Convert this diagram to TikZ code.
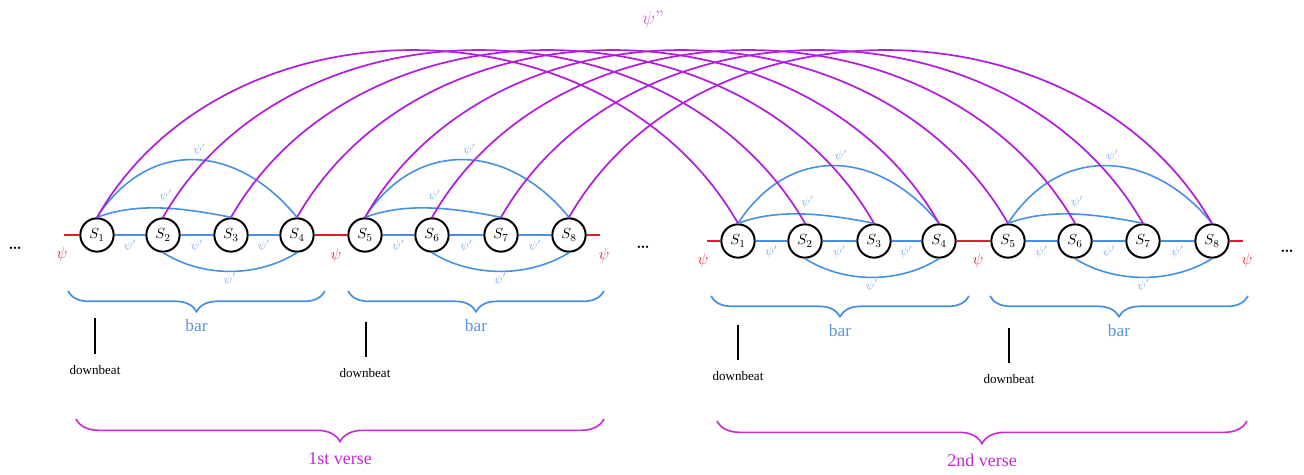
\documentclass[tikz,border=0pt]{standalone}
\usepackage{fontspec}
\newfontfamily\tnr{Liberation Serif}
\usetikzlibrary{decorations.pathreplacing}
\definecolor{eblue}{RGB}{74,144,226}
\definecolor{lblue}{RGB}{120,170,235}
\definecolor{barblue}{RGB}{90,150,225}
\definecolor{arcpurple}{RGB}{178,30,220}
\definecolor{vmag}{RGB}{200,40,215}
\definecolor{psimag}{RGB}{210,80,230}
\definecolor{myred}{RGB}{220,30,45}
\tikzset{
  snode/.style={circle, draw=black, line width=1.5pt, minimum size=25pt, inner sep=0pt, fill=white, font=\fontsize{11}{13}\selectfont},
  bedge/.style={draw=eblue, line width=1.2pt},
  plbl/.style={text=lblue, font=\small, inner sep=1pt},
  parc/.style={draw=arcpurple, line width=1.3pt},
  redl/.style={draw=myred, line width=1.3pt},
  redpsi/.style={text=myred, font=\fontsize{13}{15}\selectfont},
  bbrace/.style={draw=eblue, line width=1.3pt, decorate, decoration={brace, mirror, amplitude=15.5pt}},
  vbrace/.style={draw=vmag, line width=1.2pt, decorate, decoration={brace, mirror, amplitude=17pt}},
  bartext/.style={text=barblue, font=\tnr\fontsize{13}{15}\selectfont},
  dbtext/.style={font=\tnr\fontsize{9.8}{12}\selectfont},
  vtext/.style={text=vmag, font=\tnr\fontsize{13.5}{16}\selectfont},
  dbline/.style={draw=black, line width=1.1pt},
  dotsnode/.style={font=\bfseries\fontsize{12.5}{14}\selectfont, inner sep=0pt}
}
\begin{document}
\begin{tikzpicture}[x=0.75pt, y=-0.75pt]
\useasboundingbox (0,0) rectangle (1304,475);

% nodes
\foreach \n/\x in {1/97,2/163,3/231,4/297,5/365,6/432,7/501,8/569}{
  \node[snode] (L\n) at (\x,235) {$S_{\n}$};
}
\foreach \n/\x in {1/738,2/805,3/874,4/939,5/1008,6/1075,7/1143,8/1212}{
  \node[snode] (R\n) at (\x,241) {$S_{\n}$};
}

% red connectors
\coordinate (la) at (64,235);
\coordinate (lb) at (600,235);
\coordinate (ra) at (707,241);
\coordinate (rb) at (1243,241);
\draw[redl] (la) -- (L1);
\draw[redl] (L4) -- (L5);
\draw[redl] (L8) -- (lb);
\draw[redl] (ra) -- (R1);
\draw[redl] (R4) -- (R5);
\draw[redl] (R8) -- (rb);
\node[redpsi] (p1) at (62,254) {$\psi$};
\node[redpsi] (p2) at (336,255) {$\psi$};
\node[redpsi] (p3) at (604,255) {$\psi$};
\node[redpsi] (p4) at (703,260) {$\psi$};
\node[redpsi] (p5) at (978,260) {$\psi$};
\node[redpsi] (p6) at (1247,260) {$\psi$};

% dots
\node[dotsnode, anchor=base] (d1) at (15,249) {\ldots};
\node[dotsnode, anchor=base] (d2) at (643,248) {\ldots};
\node[dotsnode, anchor=base] (d3) at (1287,252) {\ldots};

% blue connectors
\foreach \P in {L,R}{
  \foreach \a/\b/\c/\d in {1/2/3/4,5/6/7/8}{
    \draw[bedge] (\P\a) -- node[plbl, below=2pt]{$\psi'$} (\P\b);
    \draw[bedge] (\P\b) -- node[plbl, below=2pt]{$\psi'$} (\P\c);
    \draw[bedge] (\P\c) -- node[plbl, below=2pt]{$\psi'$} (\P\d);
    \draw[bedge] (\P\a.north) .. controls +(40,-15) and +(-50,-10) .. node[plbl, pos=0.5, xshift=4pt, yshift=9pt]{$\psi'$} (\P\c.north);
    \draw[bedge] (\P\a.north) .. controls +(52,-80) and +(-60,-74) .. node[plbl, pos=0.5, xshift=4pt, yshift=7pt]{$\psi'$} (\P\d.north);
    \draw[bedge] (\P\b.south) .. controls +(40,25) and +(-40,25) .. node[plbl, pos=0.5, below]{$\psi'$} (\P\d.south);
  }
}

% purple long-range connectors
\foreach \n in {1,...,8}{
  \draw[parc] (L\n.north) .. controls +(130,-227) and +(-130,-227) .. (R\n.north);
}
\node[text=psimag, font=\Large] (pp) at (653,20) {$\psi$''};

% bar braces
\draw[bbrace] (68,291) -- (325,291) node[midway, below=17pt, bartext] (b1) {bar};
\draw[bbrace] (348,291) -- (604,291) node[midway, below=17pt, bartext] (b2) {bar};
\draw[bbrace] (711,296) -- (969,296) node[midway, below=17pt, bartext] (b3) {bar};
\draw[bbrace] (990,296) -- (1248,296) node[midway, below=17pt, bartext] (b4) {bar};

% downbeats
\coordinate (db1a) at (95,318); \coordinate (db1b) at (95,354);
\coordinate (db2a) at (366,322); \coordinate (db2b) at (366,357);
\coordinate (db3a) at (738,325); \coordinate (db3b) at (738,360);
\coordinate (db4a) at (1009,328); \coordinate (db4b) at (1009,363);
\draw[dbline] (db1a) -- (db1b);
\draw[dbline] (db2a) -- (db2b);
\draw[dbline] (db3a) -- (db3b);
\draw[dbline] (db4a) -- (db4b);
\node[dbtext] (t1) at (95,370) {downbeat};
\node[dbtext] (t2) at (365,373) {downbeat};
\node[dbtext] (t3) at (738,376) {downbeat};
\node[dbtext] (t4) at (1009,379) {downbeat};

% verse braces
\draw[vbrace] (76,419) -- (604,419) node[midway, below=21pt, vtext] (v1) {1st verse};
\draw[vbrace] (717,421) -- (1247,421) node[midway, below=21pt, vtext] (v2) {2nd verse};
\end{tikzpicture}
\end{document}
